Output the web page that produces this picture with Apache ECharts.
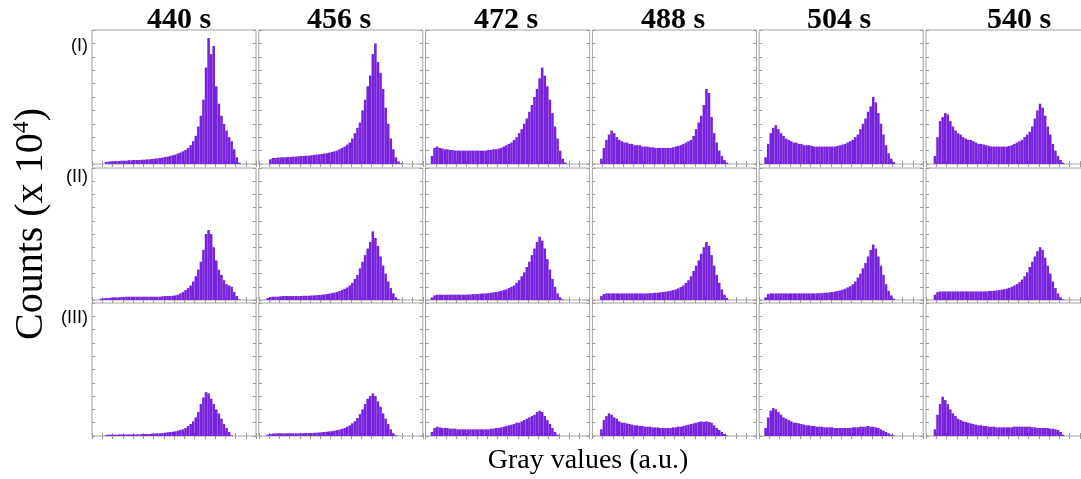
<!DOCTYPE html>
<html>
<head>
<meta charset="utf-8">
<script src="https://cdn.jsdelivr.net/npm/echarts@6/dist/echarts.min.js"></script>
<style>
  html, body { margin: 0; padding: 0; background: #fff; overflow: hidden; }
  /* the drawing area is a little wider than the window so the last column runs off the edge */
  #chart { width: 1100px; height: 479px; }
</style>
</head>
<body>
<div id="chart"></div>
<script>
// Time points (columns) and sample regions (rows)
const timeLabels = ['440 s', '456 s', '472 s', '488 s', '504 s', '540 s'];
const rowLabels = ['(I)', '(II)', '(III)'];
const yAxisTitle = 'Counts (x 10';
const yAxisExponent = '4';
const xAxisTitle = 'Gray values (a.u.)';

// 64 gray-value bins per histogram
const grayBins = Array.from({ length: 64 }, (_, i) => String(i));

// Histogram counts (x 10^4) per bin — region (I)
const I440 = [0,0,0,0,0, 0.15,0.18,0.2,0.2,0.22, 0.22,0.25,0.25,0.25,0.28, 0.28,0.3,0.3,0.3,0.32,
  0.32,0.35,0.35,0.38,0.4, 0.42,0.45,0.48,0.52,0.55, 0.6,0.65,0.7,0.78,0.85, 0.95,1.05,1.2,1.4,1.7,
  2.1,2.8,3.6,4.8,7.2, 9.4,8.2,8.8,5.8,4.5, 3.6,3.0,2.5,2.0,1.7, 1.1,0.5,0.1];
const I456 = [0,0,0,0,0.35, 0.45,0.45,0.48,0.5,0.5, 0.5,0.52,0.52,0.55,0.55, 0.58,0.6,0.6,0.62,0.62,
  0.65,0.68,0.7,0.72,0.75, 0.78,0.8,0.85,0.9,0.95, 1.0,1.1,1.2,1.3,1.45, 1.6,1.9,2.3,2.7,3.1,
  4.0,4.8,5.8,6.6,8.2, 9.0,7.6,6.8,5.6,4.2, 3.0,1.9,1.1,0.5,0.2, 0.05];
const I472 = [0,0,0.6,1.2,1.3, 1.2,1.15,1.1,1.1,1.05, 1.05,1.0,1.0,1.0,1.0, 1.0,1.0,1.0,1.0,1.0,
  1.0,1.0,1.0,1.0,1.05, 1.05,1.1,1.1,1.15,1.2, 1.3,1.4,1.5,1.6,1.8, 2.0,2.3,2.6,3.0,3.4,
  3.9,4.4,5.0,5.6,6.4, 7.2,6.6,5.8,4.8,3.8, 2.8,1.9,1.0,0.4,0.1];
const I488 = [0,0,0,0.4,1.2, 1.8,2.2,2.5,2.3,2.0, 1.8,1.7,1.6,1.6,1.5, 1.5,1.4,1.4,1.4,1.3,
  1.3,1.3,1.25,1.25,1.2, 1.2,1.2,1.2,1.2,1.2, 1.2,1.25,1.3,1.35,1.4, 1.5,1.6,1.7,1.8,2.1,
  2.6,3.1,3.6,4.4,5.6, 5.3,3.5,2.3,1.6,1.0, 0.6,0.3,0.1];
const I504 = [0,0,0.5,1.5,2.3, 2.7,2.9,2.6,2.3,2.1, 1.9,1.8,1.7,1.6,1.6, 1.5,1.5,1.4,1.4,1.4,
  1.35,1.3,1.3,1.3,1.3, 1.3,1.3,1.3,1.3,1.3, 1.35,1.4,1.45,1.5,1.6, 1.7,1.8,2.0,2.2,2.6,
  3.0,3.4,3.9,4.3,5.0, 4.6,3.8,3.0,2.2,1.4, 0.8,0.4,0.15];
const I540 = [0,0,0,0.6,2.0, 3.2,3.5,3.8,3.7,3.2, 2.8,2.5,2.3,2.2,2.0, 1.9,1.8,1.8,1.7,1.6,
  1.5,1.5,1.45,1.4,1.35, 1.3,1.3,1.3,1.3,1.3, 1.3,1.3,1.35,1.4,1.5, 1.6,1.7,1.8,2.0,2.2,
  2.4,2.8,3.4,4.0,4.5, 4.2,3.6,2.8,2.2,1.5, 1.0,0.6,0.3,0.1];

// Region (II)
const II440 = [0,0,0,0.1,0.12, 0.15,0.15,0.18,0.2,0.2, 0.2,0.22,0.22,0.25,0.25, 0.25,0.25,0.25,0.25,0.25,
  0.25,0.25,0.25,0.25,0.25, 0.25,0.25,0.28,0.3,0.3, 0.3,0.32,0.35,0.4,0.5, 0.6,0.75,0.9,1.1,1.4,
  1.8,2.3,2.9,3.8,5.0, 5.3,5.0,4.0,3.0,2.3, 1.9,1.5,1.2,1.1,1.0, 0.6,0.3,0.05];
const II456 = [0,0,0,0.15,0.22, 0.25,0.25,0.25,0.28,0.3, 0.3,0.3,0.3,0.3,0.3, 0.3,0.3,0.32,0.32,0.32,
  0.34,0.35,0.36,0.38,0.4, 0.42,0.45,0.48,0.52,0.56, 0.6,0.68,0.76,0.85,0.95, 1.1,1.3,1.6,1.9,2.4,
  2.9,3.4,3.9,4.4,5.2, 4.7,4.1,3.3,2.6,2.0, 1.4,0.9,0.5,0.2,0.05];
const II472 = [0,0,0.2,0.35,0.4, 0.4,0.4,0.4,0.4,0.4, 0.4,0.4,0.4,0.4,0.4, 0.4,0.42,0.42,0.45,0.45,
  0.45,0.48,0.5,0.5,0.52, 0.55,0.58,0.6,0.65,0.7, 0.75,0.8,0.9,1.0,1.1, 1.3,1.5,1.8,2.1,2.5,
  2.9,3.4,3.9,4.4,4.8, 4.5,3.9,3.1,2.3,1.6, 1.0,0.5,0.2,0.05];
const II488 = [0,0,0,0.3,0.45, 0.5,0.5,0.5,0.5,0.5, 0.5,0.5,0.5,0.5,0.5, 0.5,0.5,0.5,0.5,0.5,
  0.5,0.5,0.52,0.52,0.55, 0.55,0.58,0.6,0.62,0.66, 0.7,0.75,0.8,0.88,0.98, 1.1,1.3,1.5,1.8,2.2,
  2.6,3.0,3.5,4.0,4.4, 4.1,3.4,2.6,1.9,1.3, 0.8,0.4,0.15];
const II504 = [0,0,0.2,0.45,0.5, 0.5,0.5,0.5,0.5,0.5, 0.5,0.5,0.5,0.5,0.5, 0.5,0.5,0.5,0.5,0.5,
  0.5,0.5,0.5,0.52,0.52, 0.55,0.55,0.58,0.6,0.64, 0.68,0.72,0.78,0.85,0.95, 1.05,1.2,1.4,1.7,2.0,
  2.4,2.8,3.3,3.8,4.2, 3.9,3.3,2.6,1.9,1.2, 0.7,0.35,0.1];
const II540 = [0,0,0,0.4,0.6, 0.65,0.65,0.65,0.65,0.65, 0.65,0.65,0.65,0.65,0.65, 0.65,0.65,0.65,0.65,0.65,
  0.65,0.65,0.65,0.65,0.68, 0.68,0.7,0.72,0.75,0.78, 0.82,0.86,0.92,1.0,1.1, 1.2,1.35,1.55,1.8,2.1,
  2.5,2.9,3.3,3.7,4.0, 3.8,3.2,2.6,2.0,1.4, 0.9,0.5,0.2,0.05];

// Region (III)
const III440 = [0,0,0,0,0, 0.08,0.1,0.1,0.1,0.1, 0.12,0.12,0.12,0.12,0.12, 0.12,0.12,0.12,0.12,0.15,
  0.15,0.15,0.15,0.18,0.18, 0.2,0.2,0.22,0.25,0.28, 0.3,0.32,0.35,0.4,0.45, 0.5,0.6,0.75,0.9,1.1,
  1.4,1.8,2.4,2.9,3.3, 3.2,2.8,2.4,2.0,1.7, 1.3,0.9,0.6,0.3,0.05];
const III456 = [0,0,0,0.1,0.15, 0.18,0.2,0.2,0.2,0.2, 0.2,0.2,0.2,0.2,0.2, 0.2,0.2,0.22,0.22,0.22,
  0.22,0.24,0.25,0.26,0.28, 0.3,0.32,0.34,0.36,0.4, 0.44,0.48,0.54,0.6,0.7, 0.8,0.95,1.1,1.35,1.65,
  2.0,2.4,2.8,3.0,3.2, 3.0,2.6,2.2,1.7,1.3, 0.9,0.5,0.2,0.05];
const III472 = [0,0,0.3,0.6,0.7, 0.65,0.6,0.6,0.6,0.55, 0.55,0.55,0.5,0.5,0.5, 0.5,0.5,0.5,0.5,0.5,
  0.5,0.5,0.5,0.5,0.5, 0.55,0.55,0.6,0.6,0.65, 0.7,0.75,0.8,0.85,0.9, 1.0,1.0,1.1,1.2,1.3,
  1.4,1.5,1.6,1.8,1.9, 1.8,1.5,1.2,0.9,0.6, 0.3,0.1];
const III488 = [0,0,0,0.5,1.2, 1.5,1.7,1.6,1.4,1.3, 1.1,1.0,1.0,0.95,0.9, 0.85,0.8,0.8,0.75,0.75,
  0.7,0.7,0.7,0.65,0.65, 0.65,0.6,0.6,0.6,0.6, 0.6,0.65,0.65,0.7,0.7, 0.75,0.8,0.85,0.9,0.95,
  1.0,1.05,1.1,1.05,1.1, 1.05,1.0,0.8,0.6,0.45, 0.3,0.15,0.05];
const III504 = [0,0,0.6,1.4,1.9, 2.1,2.0,1.8,1.6,1.4, 1.3,1.2,1.1,1.0,1.0, 0.95,0.9,0.85,0.8,0.8,
  0.75,0.75,0.7,0.7,0.7, 0.65,0.65,0.65,0.65,0.6, 0.6,0.6,0.6,0.6,0.6, 0.6,0.65,0.65,0.65,0.7,
  0.7,0.7,0.75,0.7,0.7, 0.65,0.6,0.5,0.4,0.3, 0.2,0.1,0.05];
const III540 = [0,0,0,0.5,1.6, 2.4,2.95,2.7,2.4,2.0, 1.7,1.5,1.3,1.2,1.1, 1.05,1.0,0.95,0.9,0.85,
  0.8,0.8,0.75,0.75,0.7, 0.7,0.7,0.65,0.65,0.65, 0.65,0.65,0.65,0.65,0.7, 0.7,0.7,0.7,0.7,0.7,
  0.7,0.65,0.65,0.6,0.6, 0.6,0.6,0.6,0.55,0.55, 0.5,0.45,0.3,0.1];

const histograms = [
  [I440, I456, I472, I488, I504, I540],
  [II440, II456, II472, II488, II504, II540],
  [III440, III456, III472, III488, III504, III540]
];

// Panel layout (pixels)
const colLeft = [92, 258.8, 425.6, 592.4, 759.2, 926];
const panelWidth = 164;
const rowTop = [30, 168, 303];
const rowHeight = [134, 132, 133];
const titleCenterX = [179, 339, 506, 673, 839, 1019];
const rowLabelY = [46, 177, 318];
const countMax = 10;

const barColor = '#7722dc';
const frameColor = '#a4a4a4';
const tickStyle = { show: true, inside: true, length: 3, lineStyle: { color: '#9a9a9a', width: 1 } };

const grids = [], xAxes = [], yAxes = [], series = [];
histograms.forEach((row, r) => {
  row.forEach((counts, c) => {
    const gi = grids.length;
    grids.push({
      left: colLeft[c], width: panelWidth, top: rowTop[r], height: rowHeight[r],
      show: true, borderColor: frameColor, borderWidth: 1, backgroundColor: '#fff'
    });
    ['bottom', 'top'].forEach(pos => xAxes.push({
      type: 'category', gridIndex: gi, position: pos, data: grayBins, boundaryGap: true,
      axisLine: { show: false }, axisLabel: { show: false }, splitLine: { show: false },
      axisTick: Object.assign({ interval: 3 }, tickStyle)
    }));
    ['left', 'right'].forEach(pos => yAxes.push({
      type: 'value', gridIndex: gi, position: pos, min: 0, max: countMax, interval: 1,
      axisLine: { show: false }, axisLabel: { show: false }, splitLine: { show: false },
      axisTick: tickStyle
    }));
    series.push({
      type: 'bar', xAxisIndex: 2 * gi, yAxisIndex: 2 * gi, data: counts,
      barCategoryGap: '0%', itemStyle: { color: barColor }, silent: true
    });
  });
});

// Measure the axis-title pieces so the superscript sits right after "10"
const ctx = document.createElement('canvas').getContext('2d');
const serif = '"Liberation Serif", "Times New Roman", serif';
ctx.font = '40px ' + serif;
const baseW = ctx.measureText(yAxisTitle).width;
ctx.font = '24px ' + serif;
const expW = ctx.measureText(yAxisExponent).width;
ctx.font = '40px ' + serif;
const closeW = ctx.measureText(')').width;
const totalW = baseW + expW + closeW;

const graphics = [];
timeLabels.forEach((t, c) => graphics.push({
  type: 'text', x: titleCenterX[c], y: 20, silent: true,
  style: { text: t, font: 'bold 30px ' + serif, fill: '#000',
    textAlign: 'center', textVerticalAlign: 'middle', align: 'center', verticalAlign: 'middle' }
}));
rowLabels.forEach((t, r) => graphics.push({
  type: 'text', x: 88, y: rowLabelY[r], silent: true,
  style: { text: t, font: '18px "Liberation Sans", Arial, sans-serif', fill: '#000',
    textAlign: 'right', textVerticalAlign: 'middle', align: 'right', verticalAlign: 'middle' }
}));
graphics.push({
  type: 'group', x: 31, y: 224, rotation: Math.PI / 2, silent: true,
  children: [
    { type: 'text', x: -totalW / 2, y: 0,
      style: { text: yAxisTitle, font: '40px ' + serif, fill: '#000',
        textAlign: 'left', textVerticalAlign: 'middle', align: 'left', verticalAlign: 'middle' } },
    { type: 'text', x: -totalW / 2 + baseW, y: -9,
      style: { text: yAxisExponent, font: '24px ' + serif, fill: '#000',
        textAlign: 'left', textVerticalAlign: 'middle', align: 'left', verticalAlign: 'middle' } },
    { type: 'text', x: -totalW / 2 + baseW + expW, y: 0,
      style: { text: ')', font: '40px ' + serif, fill: '#000',
        textAlign: 'left', textVerticalAlign: 'middle', align: 'left', verticalAlign: 'middle' } }
  ]
});
graphics.push({
  type: 'text', x: 588, y: 461, silent: true,
  style: { text: xAxisTitle, font: '28px ' + serif, fill: '#000',
    textAlign: 'center', textVerticalAlign: 'middle', align: 'center', verticalAlign: 'middle' }
});

const chart = echarts.init(document.getElementById('chart'), null, { renderer: 'canvas' });
chart.setOption({
  backgroundColor: '#fff',
  animation: false,
  grid: grids,
  xAxis: xAxes,
  yAxis: yAxes,
  series: series,
  graphic: graphics
});
</script>
</body>
</html>
